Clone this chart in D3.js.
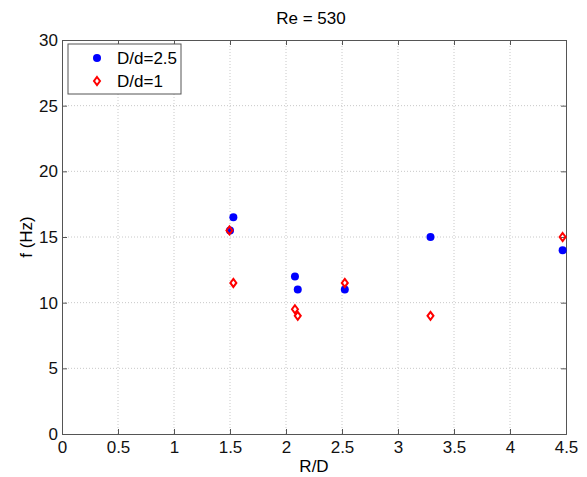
<html>
<head>
<title>Re = 530</title>
<script src="https://cdn.jsdelivr.net/npm/d3@7"></script>
<style>
body { margin: 0; background: #fff; font-family: "Liberation Sans", Arial, sans-serif; }
.grid line { stroke: #c8c8c8; stroke-width: 1px; stroke-dasharray: 1,2; }
.axis text { font-size: 17px; fill: #111; font-family: "Liberation Sans", Arial, sans-serif; }
.axis path, .axis line { stroke: #555; }
</style>
</head>
<body>
<div id="chart"></div>
<script>
var xTicks = [0, 0.5, 1, 1.5, 2, 2.5, 3, 3.5, 4, 4.5],
    yTicks = [0, 5, 10, 15, 20, 25, 30];

// D/d = 2.5
var blueX = [1.53, 1.5, 2.08, 2.105, 2.525, 3.29, 4.47],
    blueY = [16.5, 15.5, 12, 11, 11, 15, 14];
// D/d = 1
var redX = [1.495, 1.53, 2.08, 2.105, 2.525, 3.29, 4.47],
    redY = [15.5, 11.5, 9.5, 9, 11.5, 9, 15];

var W = 587, H = 477,
    m = {left: 62, right: 21, top: 40, bottom: 43},
    w = W - m.left - m.right,
    h = H - m.top - m.bottom;

var svg = d3.select('#chart').append('svg')
    .attr('width', W).attr('height', H);
var g = svg.append('g').attr('transform', 'translate(' + m.left + ',' + m.top + ')');

var x = d3.scaleLinear().domain([0, 4.5]).range([0, w]);
var y = d3.scaleLinear().domain([0, 30]).range([h, 0]);

// grid
g.append('g').attr('class', 'grid')
    .selectAll('line').data(xTicks.slice(1, -1)).enter().append('line')
    .attr('x1', x).attr('x2', x).attr('y1', 0).attr('y2', h);
g.append('g').attr('class', 'grid')
    .selectAll('line').data(yTicks.slice(1, -1)).enter().append('line')
    .attr('y1', y).attr('y2', y).attr('x1', 0).attr('x2', w);

// axes, ticks pointing inward
g.append('g').attr('class', 'axis').attr('transform', 'translate(0,' + h + ')')
    .call(d3.axisBottom(x).tickValues(xTicks).tickSize(-5).tickPadding(7).tickFormat(d3.format('')));
g.append('g').attr('class', 'axis')
    .call(d3.axisLeft(y).tickValues(yTicks).tickSize(-5).tickPadding(4));
g.append('g').attr('class', 'axis')
    .call(d3.axisTop(x).tickValues(xTicks).tickSize(-5).tickFormat(''));
g.append('g').attr('class', 'axis').attr('transform', 'translate(' + w + ',0)')
    .call(d3.axisRight(y).tickValues(yTicks).tickSize(-5).tickFormat(''));

// points
var blue = blueX.map(function(d, i) { return {x: d, y: blueY[i]}; });
var red = redX.map(function(d, i) { return {x: d, y: redY[i]}; });

g.selectAll('.bdot').data(blue).enter().append('circle')
    .attr('class', 'bdot')
    .attr('cx', function(d) { return x(d.x); })
    .attr('cy', function(d) { return y(d.y); })
    .attr('r', 4)
    .attr('fill', '#0000ff');

// matlab style diamond, a bit taller than wide
var diamondType = {
    draw: function(ctx, size) {
        var hy = Math.sqrt(size) / 2, hx = hy * 0.75;
        ctx.moveTo(0, -hy); ctx.lineTo(hx, 0); ctx.lineTo(0, hy); ctx.lineTo(-hx, 0); ctx.closePath();
    }
};
var diamond = d3.symbol().type(diamondType).size(64);
g.selectAll('.rdot').data(red).enter().append('path')
    .attr('class', 'rdot')
    .attr('d', diamond)
    .attr('transform', function(d) { return 'translate(' + x(d.x) + ',' + y(d.y) + ')'; })
    .attr('fill', 'none')
    .attr('stroke', '#ff0000')
    .attr('stroke-width', 2);

// titles
svg.append('text').attr('x', 311).attr('y', 24)
    .attr('text-anchor', 'middle').style('font-size', '17px').text('Re = 530');
svg.append('text').attr('x', m.left + w / 2).attr('y', 472)
    .attr('text-anchor', 'middle').style('font-size', '17px').text('R/D');
svg.append('text').attr('transform', 'translate(32,' + (m.top + h / 2) + ') rotate(-90)')
    .attr('text-anchor', 'middle').style('font-size', '17px').text('f (Hz)');

// legend
var lg = g.append('g').attr('transform', 'translate(6,4)');
lg.append('rect').attr('width', 113).attr('height', 50)
    .attr('fill', '#fff').attr('stroke', '#555');
lg.append('circle').attr('cx', 29).attr('cy', 14).attr('r', 4).attr('fill', '#0000ff');
lg.append('path').attr('d', diamond).attr('transform', 'translate(29,37)')
    .attr('fill', 'none').attr('stroke', '#ff0000').attr('stroke-width', 2);
lg.append('text').attr('x', 49).attr('y', 20).style('font-size', '17px').text('D/d=2.5');
lg.append('text').attr('x', 49).attr('y', 43).style('font-size', '17px').text('D/d=1');
</script>
</body>
</html>
